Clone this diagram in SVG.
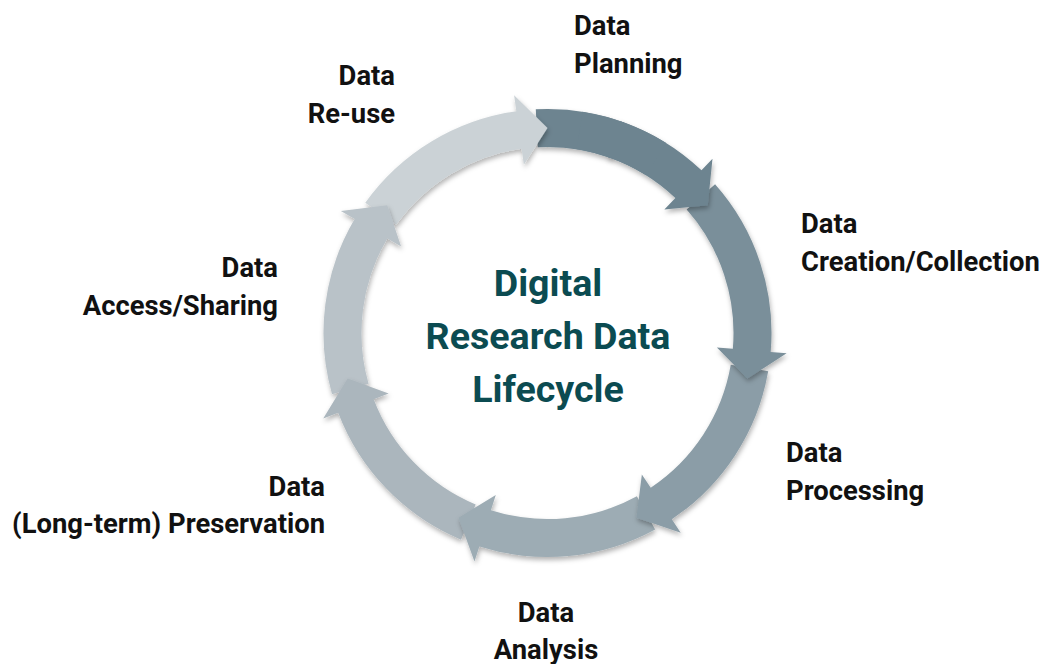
<svg xmlns="http://www.w3.org/2000/svg" xmlns:xlink="http://www.w3.org/1999/xlink" width="1044" height="664" viewBox="0 0 1044 664">
<style>
.lbl{font-family:Roboto,"Liberation Sans",Arial,sans-serif;font-weight:700;font-size:27.4px;fill:#111111}
.ttl{font-family:Roboto,"Liberation Sans",Arial,sans-serif;font-weight:700;font-size:37.6px;fill:#0b4b51;text-anchor:middle}
.st{text-anchor:start}.en{text-anchor:end}.mi{text-anchor:middle}
</style>
<defs>
<filter id="sh" x="-20%" y="-20%" width="140%" height="140%">
<feDropShadow dx="1" dy="3" stdDeviation="2.5" flood-color="#000" flood-opacity="0.3"/>
</filter>
<path id="arrow" d="M 535.777 109.307 A 224 224 0 0 1 701.489 170.325 L 712.488 158.705 L 707.775 205.185 L 664.367 209.541 L 675.366 197.921 A 186 186 0 0 0 537.766 147.255 Z"/>
<path id="pieceA" d="M 535.777 109.307 A 224 224 0 0 1 624.112 122.509 L 611.116 158.217 A 186 186 0 0 0 537.766 147.255 Z"/>
<path id="pieceB" d="M 620.427 121.204 A 224 224 0 0 1 701.489 170.325 L 712.488 158.705 L 707.775 205.185 L 664.367 209.541 L 675.366 197.921 A 186 186 0 0 0 608.056 157.133 Z"/>
</defs>
<rect width="1044" height="664" fill="#ffffff"/>
<g id="connectors">
<g filter="url(#sh)"><use xlink:href="#pieceA" fill="#6d8490"/></g>
<g filter="url(#sh)"><use xlink:href="#arrow" fill="#cbd2d6" transform="rotate(308.5714 547.5 333)"/></g>
<g filter="url(#sh)"><use xlink:href="#arrow" fill="#b9c2c8" transform="rotate(257.1429 547.5 333)"/></g>
<g filter="url(#sh)"><use xlink:href="#arrow" fill="#abb6bd" transform="rotate(205.7143 547.5 333)"/></g>
<g filter="url(#sh)"><use xlink:href="#arrow" fill="#9dacb4" transform="rotate(154.2857 547.5 333)"/></g>
<g filter="url(#sh)"><use xlink:href="#arrow" fill="#8b9da7" transform="rotate(102.8571 547.5 333)"/></g>
<g filter="url(#sh)"><use xlink:href="#arrow" fill="#7a8f9a" transform="rotate(51.4286 547.5 333)"/></g>
<g filter="url(#sh)"><use xlink:href="#pieceB" fill="#6d8490"/></g>
<use xlink:href="#pieceA" fill="#6d8490" transform="rotate(12 547.5 333)"/>
</g>
<g id="title">
<text class="ttl" x="548" y="296">Digital</text>
<text class="ttl" x="548" y="349">Research Data</text>
<text class="ttl" x="548" y="402">Lifecycle</text>
</g>
<g id="planning"><text class="lbl st" x="574" y="35">Data</text><text class="lbl st" x="574" y="73">Planning</text></g>
<g id="creation"><text class="lbl st" x="801" y="233">Data</text><text class="lbl st" x="801" y="271">Creation/Collection</text></g>
<g id="processing"><text class="lbl st" x="786" y="462">Data</text><text class="lbl st" x="786" y="500">Processing</text></g>
<g id="analysis"><text class="lbl mi" x="546" y="622">Data</text><text class="lbl mi" x="546" y="659">Analysis</text></g>
<g id="preservation"><text class="lbl en" x="325" y="496">Data</text><text class="lbl en" x="325" y="533">(Long-term) Preservation</text></g>
<g id="access"><text class="lbl en" x="278" y="277">Data</text><text class="lbl en" x="278" y="315">Access/Sharing</text></g>
<g id="reuse"><text class="lbl en" x="395" y="85">Data</text><text class="lbl en" x="395" y="123">Re-use</text></g>
</svg>
